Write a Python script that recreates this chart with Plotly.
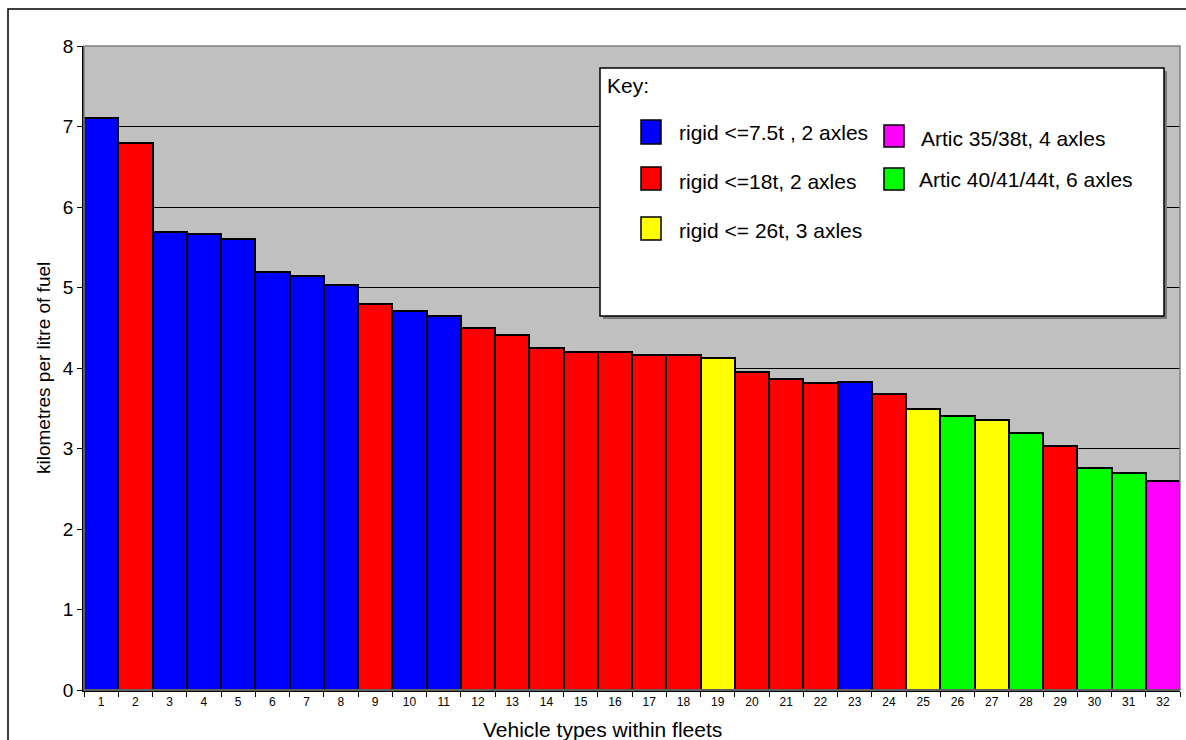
import plotly.graph_objects as go

# Fuel economy of each vehicle type, sorted from best to worst
vehicle_ids = [str(i) for i in range(1, 33)]
km_per_litre = [7.10, 6.79, 5.69, 5.66, 5.60, 5.19, 5.14, 5.03, 4.80, 4.71,
                4.64, 4.50, 4.41, 4.25, 4.20, 4.20, 4.16, 4.16, 4.13, 3.95,
                3.86, 3.81, 3.82, 3.68, 3.49, 3.40, 3.36, 3.19, 3.03, 2.76,
                2.69, 2.60]
vehicle_class = ["r75", "r18", "r75", "r75", "r75", "r75", "r75", "r75", "r18", "r75",
                 "r75", "r18", "r18", "r18", "r18", "r18", "r18", "r18", "r26", "r18",
                 "r18", "r18", "r75", "r18", "r26", "a6", "r26", "a6", "r18", "a6",
                 "a6", "a4"]

class_labels = {
    "r75": "rigid <=7.5t , 2 axles",
    "r18": "rigid <=18t, 2 axles",
    "r26": "rigid <= 26t, 3 axles",
    "a4": "Artic 35/38t, 4 axles",
    "a6": "Artic 40/41/44t, 6 axles",
}
class_colors = {
    "r75": "#0000FF",
    "r18": "#FF0000",
    "r26": "#FFFF00",
    "a4": "#FF00FF",
    "a6": "#00FF00",
}

W, H = 1186, 740
L, R, T, B = 84, 6, 46, 50
PW, PH = W - L - R, H - T - B


def fx(px):
    return (px - L) / PW


def fy(py):
    return (H - B - py) / PH


FONT = "Liberation Sans, Arial, sans-serif"

fig = go.Figure()
fig.add_trace(go.Bar(
    x=vehicle_ids,
    y=km_per_litre,
    marker=dict(color=[class_colors[c] for c in vehicle_class],
                line=dict(color="#000000", width=2)),
    showlegend=False,
    hoverinfo="x+y",
))

shapes = []
annotations = []

# outer chart frame
shapes.append(dict(type="rect", xref="paper", yref="paper",
                   x0=fx(8), x1=fx(1210), y0=fy(9), y1=fy(760),
                   line=dict(color="#000000", width=1.5), fillcolor="rgba(0,0,0,0)",
                   layer="below"))
# plot area outline
shapes.append(dict(type="rect", xref="paper", yref="paper",
                   x0=0, x1=1, y0=0, y1=1,
                   line=dict(color="#808080", width=1.5), layer="above"))

# key box with shadow
kx0, ky0, kx1, ky1 = 600, 68, 1164, 316
shapes.append(dict(type="rect", xref="paper", yref="paper",
                   x0=fx(kx0 + 3), x1=fx(kx1 + 3), y0=fy(ky0 + 3), y1=fy(ky1 + 3),
                   line=dict(width=0), fillcolor="#7A7A7A", layer="above"))
shapes.append(dict(type="rect", xref="paper", yref="paper",
                   x0=fx(kx0), x1=fx(kx1), y0=fy(ky0), y1=fy(ky1),
                   line=dict(color="#000000", width=1.5), fillcolor="#FFFFFF",
                   layer="above"))
annotations.append(dict(xref="paper", yref="paper", x=fx(605), y=fy(85),
                        text="Key:", showarrow=False, xanchor="left", yanchor="middle",
                        font=dict(family=FONT, size=21, color="#000000")))

key_layout = [
    ("r75", 641, 120, 144, 677, 133),
    ("r18", 641, 167, 190, 677, 181),
    ("r26", 641, 217, 240, 677, 231),
    ("a4", 884, 125, 147, 919, 138),
    ("a6", 884, 168, 190, 917, 179),
]
for key, sx, sy0, sy1, tx, ty in key_layout:
    shapes.append(dict(type="rect", xref="paper", yref="paper",
                       x0=fx(sx), x1=fx(sx + 20), y0=fy(sy0), y1=fy(sy1),
                       line=dict(color="#000000", width=1.5),
                       fillcolor=class_colors[key], layer="above"))
    annotations.append(dict(xref="paper", yref="paper", x=fx(tx), y=fy(ty),
                            text=class_labels[key], showarrow=False,
                            xanchor="left", yanchor="middle",
                            font=dict(family=FONT, size=21, color="#000000")))

# axis titles
annotations.append(dict(xref="paper", yref="paper", x=fx(43), y=fy(368),
                        text="kilometres per litre of fuel", showarrow=False,
                        textangle=-90, xanchor="center", yanchor="middle",
                        font=dict(family=FONT, size=19, color="#000000")))
annotations.append(dict(xref="paper", yref="paper", x=fx(602), y=fy(729),
                        text="Vehicle types within fleets", showarrow=False,
                        xanchor="center", yanchor="middle",
                        font=dict(family=FONT, size=21, color="#000000")))

fig.update_layout(
    width=W, height=H,
    margin=dict(l=L, r=R, t=T, b=B, pad=0),
    paper_bgcolor="#FFFFFF",
    plot_bgcolor="#C0C0C0",
    bargap=0,
    shapes=shapes,
    annotations=annotations,
    font=dict(family=FONT, color="#000000"),
    xaxis=dict(
        type="category",
        range=[-0.5, len(vehicle_ids) - 0.5],
        tickson="boundaries",
        ticks="outside", ticklen=5, tickcolor="#000000", tickwidth=1,
        showline=True, linecolor="#000000", linewidth=2,
        showgrid=False,
        tickfont=dict(family=FONT, size=12, color="#000000"),
        tickangle=0,
        fixedrange=True,
    ),
    yaxis=dict(
        range=[0, 8],
        tickmode="linear", tick0=0, dtick=1,
        ticks="outside", ticklen=5, tickcolor="#000000", tickwidth=1,
        showline=True, linecolor="#000000", linewidth=1.5,
        showgrid=True, gridcolor="#000000", gridwidth=1,
        zeroline=False,
        tickfont=dict(family=FONT, size=19, color="#000000"),
        fixedrange=True,
    ),
)

fig.write_html("out.html")
